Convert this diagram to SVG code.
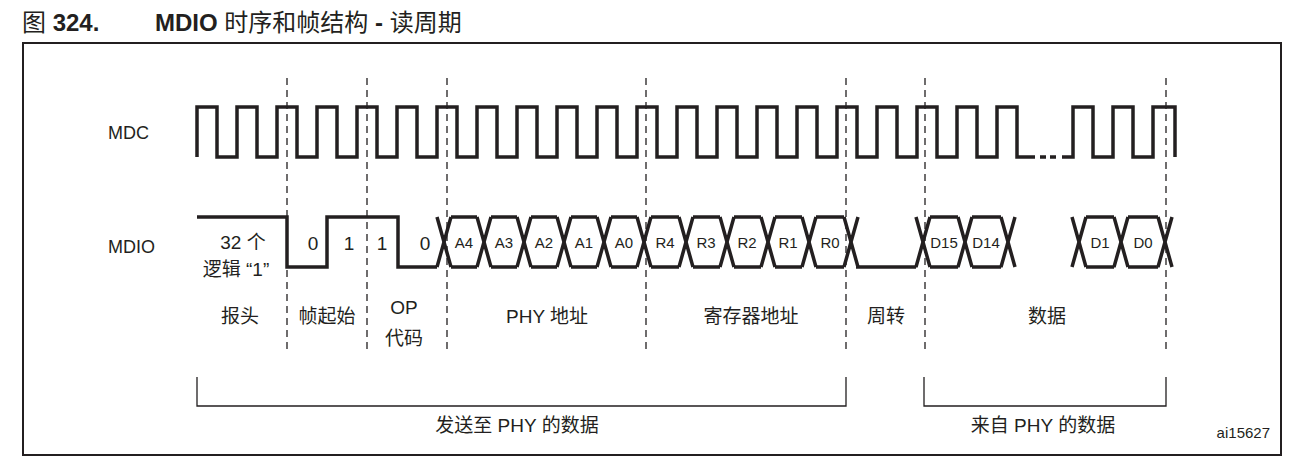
<svg xmlns="http://www.w3.org/2000/svg" width="1304" height="463" viewBox="0 0 1304 463">
<style>
.t{font-family:"Liberation Sans","Noto Sans CJK SC",sans-serif;fill:#231f20}
.w{fill:none;stroke:#231f20;stroke-width:3.5;stroke-linejoin:miter}
.d{fill:none;stroke:#231f20;stroke-width:1.3;stroke-dasharray:7 5}
.b{fill:none;stroke:#231f20;stroke-width:1.3}
.h{font-size:15px;text-anchor:middle}
.l{font-size:19px;text-anchor:middle}
</style>
<rect width="1304" height="463" fill="#fff"/>
<text class="t" x="22" y="31" font-size="24">图 <tspan font-weight="bold">324.</tspan></text>
<text class="t" x="155" y="31" font-size="24" font-weight="bold">MDIO <tspan font-weight="normal">时序和帧结构 </tspan>- <tspan font-weight="normal">读周期</tspan></text>
<rect x="23" y="43" width="1258" height="412" fill="none" stroke="#231f20" stroke-width="2"/>
<g id="grid">
<path class="d" d="M287,78V352M367,78V352M447,78V352M646,78V352M846,78V352M925,78V352M1166,78V352"/>
</g>
<g id="mdc">
<text class="t" x="108" y="139" font-size="18">MDC</text>
<path class="w" d="M197,157V107H217V157H237V107H257V157H277V107H297V157H317V107H337V157H357V107H377V157H397V107H417V157H437V107H457V157H477V107H497V157H517V107H537V157H557V107H577V157H597V107H617V157H637V107H657V157H677V107H697V157H717V107H737V157H757V107H777V157H797V107H817V157H837V107H857V157H877V107H897V157H917V107H937V157H957V107H977V157H997V107H1017V157H1035M1062,157H1073V107H1093V157H1113V107H1133V157H1153V107H1175V157"/>
<path class="w" d="M1040,157H1046M1050,157H1056"/>
</g>
<g id="mdio">
<text class="t" x="108" y="253" font-size="18">MDIO</text>
<path class="w" d="M197,217H287V267H327V217H398V267H437"/>
<path class="w" d="M437,217L451,267M437,267L451,217M477,217L491,267M477,267L491,217M517,217L531,267M517,267L531,217M557,217L571,267M557,267L571,217M597,217L611,267M597,267L611,217M637,217L651,267M637,267L651,217M679,217L693,267M679,267L693,217M720,217L734,267M720,267L734,217M761,217L775,267M761,267L775,217M802,217L816,267M802,267L816,217M844,217L858,267M844,267L858,217"/>
<path class="w" d="M451,217H477M491,217H517M531,217H557M571,217H597M611,217H637M651,217H679M693,217H720M734,217H761M775,217H802M816,217H844M451,267H477M491,267H517M531,267H557M571,267H597M611,267H637M651,267H679M693,267H720M734,267H761M775,267H802M816,267H844"/>
<path class="w" d="M856,267H916M916,217L930,267M916,267L930,217M958,217L972,267M958,267L972,217M1001,217L1015,267M1001,267L1015,217M930,217H958M972,217H1001M930,267H958M972,267H1001"/>
<path class="w" d="M1072,217L1086,267M1072,267L1086,217M1114,217L1128,267M1114,267L1128,217M1158,217L1172,267M1158,267L1172,217M1086,217H1114M1128,217H1158M1086,267H1114M1128,267H1158"/>
<text class="t h" x="464" y="248">A4</text>
<text class="t h" x="504" y="248">A3</text>
<text class="t h" x="544" y="248">A2</text>
<text class="t h" x="584" y="248">A1</text>
<text class="t h" x="624" y="248">A0</text>
<text class="t h" x="665" y="248">R4</text>
<text class="t h" x="706" y="248">R3</text>
<text class="t h" x="747" y="248">R2</text>
<text class="t h" x="788" y="248">R1</text>
<text class="t h" x="830" y="248">R0</text>
<text class="t h" x="944" y="248">D15</text>
<text class="t h" x="986" y="248">D14</text>
<text class="t h" x="1100" y="248">D1</text>
<text class="t h" x="1143" y="248">D0</text>
<text class="t l" x="313" y="250">0</text>
<text class="t l" x="349" y="250">1</text>
<text class="t l" x="382" y="250">1</text>
<text class="t l" x="425" y="250">0</text>
<text class="t l" x="243" y="249">32 个</text>
<text class="t l" x="236" y="276">逻辑 “1”</text>
</g>
<g id="fields">
<text class="t l" x="240" y="323">报头</text>
<text class="t l" x="327" y="323">帧起始</text>
<text class="t l" x="404" y="314">OP</text>
<text class="t l" x="404" y="345">代码</text>
<text class="t l" x="547" y="323">PHY 地址</text>
<text class="t l" x="751" y="323">寄存器地址</text>
<text class="t l" x="886" y="323">周转</text>
<text class="t l" x="1047" y="323">数据</text>
</g>
<g id="brackets">
<path class="b" d="M197,377V406H846V377M924,377V406H1166V377"/>
<text class="t l" x="517" y="432">发送至 PHY 的数据</text>
<text class="t l" x="1043" y="432">来自 PHY 的数据</text>
<text class="t" x="1270" y="438" font-size="15" text-anchor="end">ai15627</text>
</g>
</svg>
